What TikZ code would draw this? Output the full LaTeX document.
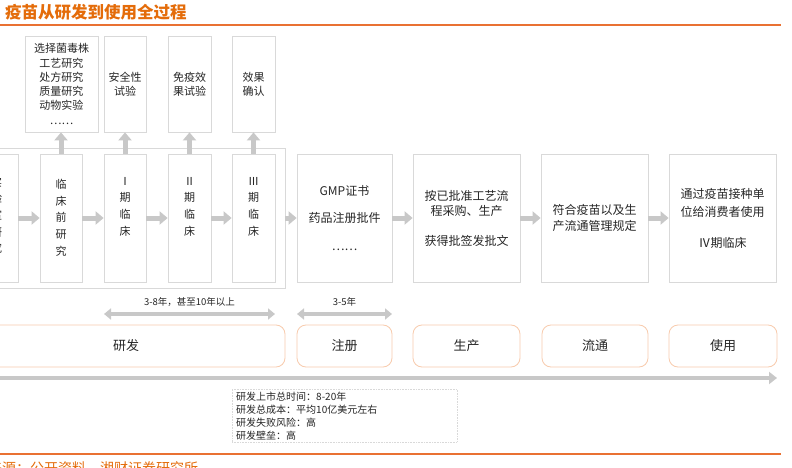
\documentclass[tikz,border=0pt]{standalone}
\usepackage{fontspec}
\setmainfont{Noto Sans CJK SC}
\usetikzlibrary{arrows.meta}
\definecolor{boxgray}{HTML}{D9D9D9}
\definecolor{arrgray}{HTML}{C8C8C8}
\definecolor{peach}{HTML}{F8CBAD}
\definecolor{orangeT}{HTML}{E46C0A}
\definecolor{orangeL}{HTML}{E97132}
\definecolor{txt}{HTML}{262626}
\newcommand{\fs}[2]{\fontsize{#1}{#2}\selectfont}
\tikzset{
  stepbox/.style={draw=boxgray, line width=0.8pt, fill=white, inner sep=0pt, align=center, text=txt},
  rbox/.style={draw=peach, line width=0.8pt, rounded corners=9pt, inner sep=0pt, text=txt, font=\fs{13}{15}, minimum height=42pt},
  vtext/.style={anchor=north, inner sep=0pt, align=center, text=txt, font=\fs{11}{16.7}},
  flowarrow/.style={draw=arrgray, line width=5pt, -{Triangle[length=8pt,width=13pt]}},
  spanarrow/.style={draw=arrgray, line width=4pt, {Triangle[length=7pt,width=11pt]}-{Triangle[length=7pt,width=11pt]}},
  longarrow/.style={draw=arrgray, line width=4pt, -{Triangle[length=8pt,width=12pt]}},
  small/.style={inner sep=0pt, text=txt, font=\fs{9.5}{13}}
}
\begin{document}
\begin{tikzpicture}[x=1pt,y=-1pt]
\useasboundingbox (0,0) rectangle (792,468);
\clip (0,0) rectangle (792,468);
\fill[white] (0,0) rectangle (792,468);

% title and rules
\node[anchor=west, inner sep=0pt, text=orangeT, font=\fs{16.5}{18}\bfseries] (title) at (5,12) {疫苗从研发到使用全过程};
\coordinate (tl) at (0,25); \coordinate (tr) at (781,25);
\draw[orangeL, line width=2pt] (tl) -- (tr);
\coordinate (bl) at (0,454); \coordinate (br) at (781,454);
\draw[orangeL, line width=2pt] (bl) -- (br);
\node[anchor=west, inner sep=0pt, text=orangeT, font=\fs{14}{16}] (src) at (-12,468) {来源：公开资料，湘财证券研究所};

% big frame around research steps
\node[draw=boxgray, line width=0.8pt, minimum width=325pt, minimum height=140pt, inner sep=0pt] (frame) at (122.5,218) {};

% top boxes
\node[stepbox, minimum width=73pt, minimum height=96pt, font=\fs{11}{14.3}] (A) at (61.5,84) {选择菌毒株\\工艺研究\\处方研究\\质量研究\\动物实验\\……};
\node[stepbox, minimum width=42pt, minimum height=96pt, font=\fs{11}{14.3}] (B) at (125,84) {安全性\\试验};
\node[stepbox, minimum width=43pt, minimum height=96pt, font=\fs{11}{14.3}] (C) at (189.5,84) {免疫效\\果试验};
\node[stepbox, minimum width=43pt, minimum height=96pt, font=\fs{11}{14.3}] (D) at (253.5,84) {效果\\确认};

% row 2 boxes
\node[stepbox, minimum width=43pt, minimum height=128pt] (L) at (-3.5,218) {};
\node[stepbox, minimum width=42pt, minimum height=128pt] (P) at (61,218) {};
\node[stepbox, minimum width=42pt, minimum height=128pt] (I1) at (125,218) {};
\node[stepbox, minimum width=43pt, minimum height=128pt] (I2) at (189.5,218) {};
\node[stepbox, minimum width=43pt, minimum height=128pt] (I3) at (253.5,218) {};
\node[vtext] (Lt) at (L.center |- 0,176.5) {实\\验\\室\\研\\究};
\node[vtext] (Pt) at (P.center |- 0,179) {临\\床\\前\\研\\究};
\node[vtext] (I1t) at (I1.center |- 0,177) {Ⅰ\\期\\临\\床};
\node[vtext] (I2t) at (I2.center |- 0,177) {Ⅱ\\期\\临\\床};
\node[vtext] (I3t) at (I3.center |- 0,177) {Ⅲ\\期\\临\\床};

\node[stepbox, minimum width=95pt, minimum height=128pt, font=\fs{12}{27.5}] (G) at (344.5,218) {GMP证书\\药品注册批件\\……};
\node[stepbox, minimum width=107pt, minimum height=128pt, font=\fs{12}{15}] (M) at (466.5,218) {按已批准工艺流\\程采购、生产\\[15pt]获得批签发批文};
\node[stepbox, minimum width=107pt, minimum height=128pt, font=\fs{12}{16}] (F) at (594.5,218) {符合疫苗以及生\\产流通管理规定};
\node[stepbox, minimum width=107pt, minimum height=128pt, font=\fs{12}{18}] (U) at (722.5,218) {通过疫苗接种单\\位给消费者使用\\[13pt]Ⅳ期临床};

% up arrows
\draw[flowarrow] (P.north) -- (P.north |- A.south);
\draw[flowarrow] (I1.north) -- (B.south);
\draw[flowarrow] (I2.north) -- (C.south);
\draw[flowarrow] (I3.north) -- (D.south);

% right arrows
\draw[flowarrow] (L.east) -- (P.west);
\draw[flowarrow] (P.east) -- (I1.west);
\draw[flowarrow] (I1.east) -- (I2.west);
\draw[flowarrow] (I2.east) -- (I3.west);
\draw[flowarrow] (frame.east |- I3.east) -- (G.west);
\draw[flowarrow] (G.east) -- (M.west);
\draw[flowarrow] (M.east) -- (F.west);
\draw[flowarrow] (F.east) -- (U.west);

% span arrows
\coordinate (s1a) at (104,314); \coordinate (s1b) at (275,314);
\coordinate (s2a) at (297,314); \coordinate (s2b) at (392,314);
\draw[spanarrow] (s1a) -- (s1b);
\draw[spanarrow] (s2a) -- (s2b);
\node[small] (s1l) at (189.5,301.5) {3-8年，甚至10年以上};
\node[small] (s2l) at (344.5,301.5) {3-5年};

% stage boxes
\node[rbox, minimum width=318pt] (R1) at (126,346) {研发};
\node[rbox, minimum width=95pt] (R2) at (344.5,346) {注册};
\node[rbox, minimum width=107pt] (R3) at (466.5,346) {生产};
\node[rbox, minimum width=106pt] (R4) at (595,346) {流通};
\node[rbox, minimum width=108pt] (R5) at (723,346) {使用};

% long timeline arrow
\coordinate (la) at (-40,378); \coordinate (lb) at (777,378);
\draw[longarrow] (la) -- (lb);

% info box
\node[draw=boxgray, densely dotted, line width=0.6pt, minimum width=225pt, minimum height=53pt, inner sep=0pt] (info) at (344.5,415.5) {};
\node[small, anchor=north west, align=left, font=\fs{10}{13}] (infot) at (236,391.5) {研发上市总时间：8-20年\\研发总成本：平均10亿美元左右\\研发失败风险：高\\研发壁垒：高};
\end{tikzpicture}
\end{document}
